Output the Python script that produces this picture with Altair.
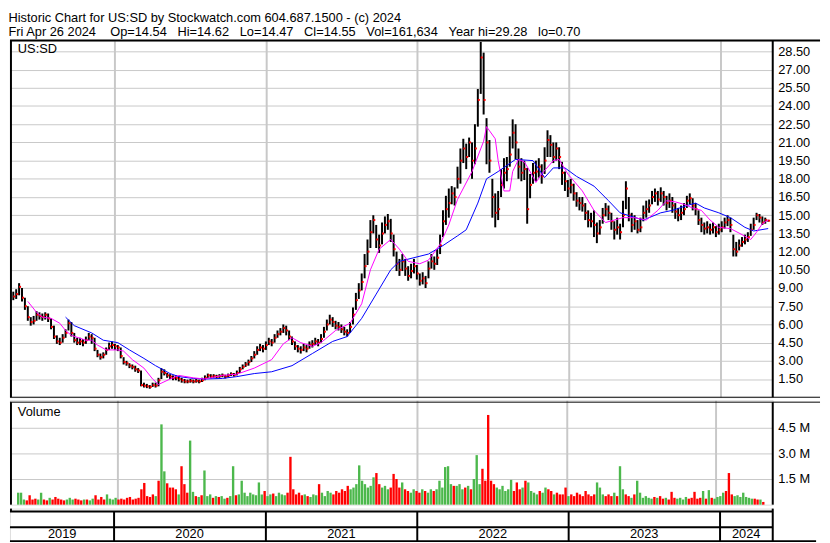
import altair as alt
import pandas as pd

# ---------------- data (weekly) ----------------
start_date = "2019-05-03"
n_weeks = 261

close = [
    8.3, 8.5, 9.1, 8.2, 7.5, 6.6, 6.2, 6.3, 6.8, 6.7,
    6.6, 6.8, 6.5, 5.8, 5.0, 4.6, 4.5, 4.9, 5.3, 6.1,
    5.3, 4.7, 4.5, 4.6, 4.5, 4.7, 5.0, 4.9, 4.0, 3.5,
    3.3, 3.5, 3.9, 4.2, 4.3, 4.2, 4.1, 3.4, 2.9, 2.8,
    2.6, 2.5, 2.3, 2.2, 1.0, 0.95, 0.9, 0.85, 1.0, 0.95,
    1.4, 2.1, 2.0, 1.8, 1.7, 1.6, 1.6, 1.5, 1.4, 1.3,
    1.3, 1.35, 1.3, 1.35, 1.3, 1.4, 1.6, 1.8, 1.7, 1.75,
    1.7, 1.75, 1.8, 1.7, 1.8, 1.9, 1.85, 2.0, 2.3, 2.5,
    2.7, 2.9, 3.2, 3.5, 3.9, 4.1, 4.0, 4.3, 4.6, 4.5,
    4.9, 5.2, 5.4, 5.7, 5.5, 5.0, 4.6, 4.2, 4.0, 3.9,
    4.1, 4.0, 4.3, 4.4, 4.6, 4.5, 4.8, 5.4, 6.0, 6.4,
    6.2, 5.9, 5.8, 5.6, 5.4, 5.3, 5.8, 6.8, 8.0, 8.8,
    9.5, 10.8, 12.0, 13.6, 14.6, 13.0, 12.5, 13.5, 14.2, 14.5,
    13.5, 12.2, 11.0, 10.5, 11.2, 10.6, 10.0, 10.4, 10.8, 10.2,
    9.6, 9.8, 9.4, 10.6, 11.2, 11.0, 11.5, 12.5, 14.5, 15.5,
    16.0, 16.8, 16.5, 18.0, 19.5, 20.5, 19.8, 21.0, 19.5, 20.5,
    24.5, 28.0, 24.5, 21.0, 19.5, 16.5, 15.2, 15.5, 17.5, 18.5,
    18.8, 20.0, 21.8, 21.0, 19.0, 18.5, 18.8, 15.5, 17.5, 18.5,
    18.6, 19.0, 18.2, 19.5, 21.2, 20.8, 19.8, 20.5, 19.8, 18.5,
    17.8, 17.2, 17.5, 16.8, 16.2, 16.0, 15.8, 15.2, 14.6, 14.5,
    14.2, 13.5, 14.0, 15.0, 15.5, 15.2, 14.5, 13.8, 14.0, 13.6,
    15.0, 17.2, 15.0, 14.2, 14.5, 13.8, 14.0, 15.2, 15.5, 15.8,
    16.5, 16.8, 16.3, 16.8, 16.5, 16.0, 16.2, 15.8, 15.3, 15.0,
    15.2, 15.5, 16.2, 16.4, 15.8, 15.5, 14.6, 14.2, 13.9, 14.0,
    13.8, 14.0, 13.6, 13.8, 14.0, 14.4, 14.6, 14.2, 12.2, 12.0,
    12.5, 12.8, 13.0, 13.2, 13.8, 14.2, 15.0, 14.8, 14.4, 14.6, 14.55,
]

high = [
    8.7, 8.9, 9.4, 9.0, 8.2, 7.5, 6.6, 6.7, 7.1, 7.0,
    6.9, 7.0, 6.9, 6.5, 5.9, 5.1, 4.9, 5.2, 5.6, 6.4,
    6.2, 5.3, 4.9, 4.9, 4.8, 5.0, 5.3, 5.2, 4.9, 3.9,
    3.6, 3.7, 4.1, 4.5, 4.6, 4.4, 4.3, 4.1, 3.3, 3.0,
    2.8, 2.7, 2.6, 2.4, 2.2, 1.2, 1.1, 1.0, 1.2, 1.2,
    1.6, 2.4, 2.3, 2.0, 1.9, 1.8, 1.8, 1.7, 1.6, 1.5,
    1.45, 1.5, 1.45, 1.5, 1.45, 1.6, 1.8, 1.95, 1.9, 1.9,
    1.85, 1.9, 1.95, 1.85, 1.95, 2.05, 2.0, 2.2, 2.5, 2.7,
    2.9, 3.1, 3.4, 3.8, 4.2, 4.4, 4.3, 4.6, 4.9, 4.8,
    5.2, 5.5, 5.7, 6.0, 5.9, 5.5, 5.0, 4.6, 4.3, 4.2,
    4.4, 4.3, 4.6, 4.7, 4.9, 4.8, 5.2, 5.8, 6.4, 6.8,
    6.6, 6.3, 6.2, 6.0, 5.8, 5.6, 6.2, 7.4, 8.6, 9.4,
    10.2, 11.8, 13.0, 14.6, 15.0, 14.2, 13.4, 14.4, 14.9, 15.1,
    14.7, 13.4, 12.0, 11.4, 11.8, 11.4, 10.8, 11.0, 11.4, 10.9,
    10.2, 10.3, 10.0, 11.2, 11.8, 11.6, 12.2, 13.4, 15.4, 16.6,
    17.2, 17.4, 17.3, 19.0, 20.5, 21.3, 20.9, 21.4, 21.0, 22.5,
    25.4, 29.28, 28.4, 23.0, 21.2, 18.0, 16.8, 17.0, 18.8, 19.7,
    19.8, 21.5, 22.9, 22.5, 20.5, 19.7, 19.5, 18.9, 18.4, 19.3,
    19.5, 19.7, 19.2, 20.6, 22.0, 21.6, 21.0, 21.0, 20.6, 19.4,
    18.6, 17.9, 18.0, 17.6, 16.9, 16.5, 16.5, 16.0, 15.4, 15.2,
    15.4, 14.4, 14.6, 15.6, 16.0, 15.8, 15.2, 14.5, 14.8, 14.3,
    16.2, 17.8, 16.5, 15.2, 15.0, 14.6, 14.8, 15.8, 16.2, 16.3,
    17.0, 17.2, 17.0, 17.3, 17.0, 16.6, 16.8, 16.5, 16.0, 15.6,
    15.8, 16.0, 16.6, 16.8, 16.4, 16.0, 15.4, 14.8, 14.4, 14.5,
    14.3, 14.4, 14.1, 14.3, 14.5, 14.8, 15.0, 14.8, 13.4, 12.8,
    13.0, 13.2, 13.4, 13.6, 14.3, 14.8, 15.2, 15.1, 14.9, 14.8, 14.62,
]

low = [
    8.0, 8.1, 8.4, 7.9, 7.2, 6.3, 5.9, 6.0, 6.3, 6.4,
    6.3, 6.4, 6.2, 5.6, 4.8, 4.4, 4.3, 4.5, 4.9, 5.5,
    5.0, 4.5, 4.3, 4.3, 4.2, 4.4, 4.7, 4.4, 3.8, 3.3,
    3.1, 3.2, 3.5, 3.9, 4.0, 3.9, 3.8, 3.2, 2.7, 2.6,
    2.4, 2.3, 2.1, 2.0, 0.9, 0.8, 0.75, 0.7, 0.85, 0.8,
    0.9, 1.5, 1.8, 1.6, 1.5, 1.4, 1.4, 1.3, 1.2, 1.15,
    1.15, 1.2, 1.15, 1.2, 1.15, 1.25, 1.4, 1.6, 1.55, 1.6,
    1.55, 1.6, 1.65, 1.55, 1.65, 1.75, 1.7, 1.8, 2.0, 2.3,
    2.5, 2.6, 2.9, 3.2, 3.5, 3.8, 3.7, 3.9, 4.3, 4.2,
    4.5, 4.9, 5.1, 5.3, 5.1, 4.7, 4.3, 3.9, 3.7, 3.6,
    3.8, 3.7, 4.0, 4.1, 4.3, 4.2, 4.5, 4.9, 5.5, 6.0,
    5.8, 5.6, 5.5, 5.3, 5.1, 5.0, 5.3, 6.0, 7.2, 8.1,
    8.8, 9.8, 10.9, 12.3, 13.5, 12.3, 11.9, 12.6, 13.5, 13.8,
    12.8, 11.6, 10.4, 10.0, 10.4, 10.0, 9.6, 9.8, 10.2, 9.7,
    9.2, 9.3, 9.0, 9.8, 10.6, 10.5, 10.9, 11.8, 13.2, 14.2,
    14.8, 15.9, 15.8, 17.2, 17.6, 19.3, 18.8, 19.8, 18.0, 19.2,
    22.3, 25.0, 23.3, 19.2, 18.5, 14.8, 14.0, 14.6, 16.5, 17.2,
    17.8, 19.0, 20.5, 19.6, 18.0, 17.8, 17.9, 14.3, 16.4, 17.6,
    17.8, 18.1, 17.6, 18.4, 19.8, 19.8, 19.3, 19.5, 18.8, 17.5,
    17.0, 16.5, 16.8, 16.2, 15.7, 15.4, 15.3, 14.6, 14.0, 14.0,
    13.2, 12.7, 13.4, 14.3, 14.9, 14.6, 13.8, 13.0, 13.4, 13.0,
    14.0, 15.5, 14.5, 13.6, 13.8, 13.5, 13.6, 14.5, 14.8, 15.2,
    15.9, 16.1, 15.8, 16.1, 15.8, 15.4, 15.6, 15.2, 14.7, 14.5,
    14.6, 15.0, 15.6, 15.9, 15.4, 15.0, 14.2, 13.6, 13.4, 13.5,
    13.4, 13.5, 13.2, 13.4, 13.6, 13.9, 14.1, 13.6, 11.6, 11.6,
    12.1, 12.4, 12.6, 12.8, 13.3, 13.8, 14.6, 14.4, 14.2, 14.3, 14.47,
]

volume_m = [
    0.7, 0.7, 0.3, 0.25, 0.55, 0.3, 0.35, 0.3, 0.7, 0.3,
    0.25, 0.4, 0.3, 0.45, 0.35, 0.3, 0.25, 0.3, 0.4, 0.3,
    0.35, 0.3, 0.25, 0.3, 0.3, 0.25, 0.35, 0.55, 0.3, 0.45,
    0.3, 0.6, 0.35, 0.3, 0.4, 0.3, 0.35, 0.3, 0.4, 0.45,
    0.3, 0.35, 0.4, 0.9, 1.27, 0.5, 0.45, 0.6, 0.5, 1.4,
    4.7, 1.95, 1.25, 1.0, 1.0, 0.9, 0.6, 2.25, 1.2, 0.7,
    3.75, 0.75, 0.5, 0.45, 0.55, 2.0, 0.5, 0.6, 0.4, 0.5,
    0.45, 0.5, 0.35, 0.4, 0.5, 2.25, 0.55, 0.6, 1.4, 0.7,
    0.5, 0.7, 0.6, 0.55, 1.3, 0.6, 0.8, 0.5, 0.6, 0.65,
    0.5, 0.7, 0.6, 0.55, 0.7, 2.8, 0.9, 0.6, 0.7, 0.55,
    0.6, 0.5, 0.45, 0.6, 0.55, 1.2, 0.7, 0.5, 0.8, 0.7,
    0.6, 0.8, 0.7, 0.9, 0.8, 1.1, 0.9, 1.0, 1.2, 2.3,
    1.4, 1.2, 1.0, 1.1, 1.6, 1.85, 1.2, 1.0, 1.1, 0.9,
    1.0, 1.8, 1.5, 1.0, 1.3, 0.9, 0.8, 0.7, 0.9, 0.8,
    0.7, 0.9, 0.8, 0.7, 0.9, 0.8, 0.9, 1.4, 1.0, 2.2,
    2.25, 1.2, 1.1, 1.1, 1.2, 0.9, 1.0, 1.1, 0.9, 1.5,
    2.9, 1.2, 2.1, 1.4, 5.25, 1.4, 1.2, 1.0, 0.9, 1.1,
    0.8, 0.9, 1.45, 0.8, 1.3, 0.9, 1.0, 1.4, 1.3, 0.8,
    0.7, 0.6, 0.8, 0.7, 1.0, 0.9, 0.8, 0.6, 0.7, 0.6,
    0.6, 1.0, 0.5, 0.6, 0.5, 0.7, 0.6, 0.5, 0.8, 0.6,
    0.5, 0.6, 1.3, 1.0, 0.6, 0.5, 0.6, 0.5, 0.7, 0.5,
    2.25, 0.9, 0.6, 0.5, 0.4, 0.6, 1.4, 0.7, 0.4, 0.5,
    0.4, 0.35, 0.45, 0.4, 0.5, 0.35, 0.4, 0.3, 0.75, 0.4,
    0.35, 0.4, 0.3, 0.45, 0.35, 0.4, 0.75, 0.35, 0.4, 0.8,
    0.35, 0.85, 0.4, 0.35, 0.45, 0.5, 0.7, 0.8, 1.85, 0.6,
    0.5, 0.55, 0.45, 0.7, 0.45, 0.4, 0.35, 0.35, 0.3, 0.3, 0.16,
]

# moving-average curves (week index, value)
fast_ma_week = [5, 8, 10, 13, 16, 18, 20, 25, 27, 29, 32, 36, 38, 41, 45, 48, 50, 54, 57, 62,
                66, 72, 77, 83, 89, 93, 96, 99, 103, 106, 111, 116, 120, 123, 126, 130, 133, 136, 140, 143,
                147, 150, 153, 158, 162, 163, 166, 167, 169, 171, 172, 174, 176, 178, 180, 182, 186, 188, 191, 196,
                200, 204, 207, 210, 214, 218, 222, 225, 228, 231, 234, 237, 240, 243, 247, 251, 254, 256, 258, 260]
fast_ma = [7.9, 7.0, 6.6, 6.5, 6.1, 5.5, 5.1, 4.7, 4.7, 4.3, 3.9, 3.9, 3.8, 3.1, 2.4, 1.5, 1.05, 1.5, 1.8, 1.6,
           1.5, 1.8, 1.9, 2.4, 3.1, 4.4, 4.9, 4.5, 4.2, 4.5, 5.5, 6.1, 7.7, 10.5, 12.2, 13.0, 12.2, 11.2, 11.0, 11.3,
           12.6, 14.2, 16.3, 18.6, 21.1, 22.3, 21.3, 19.5, 17.0, 17.0, 18.6, 19.6, 19.4, 18.6, 17.7, 18.4, 19.5, 19.6, 18.4, 17.0,
           15.4, 14.4, 14.6, 14.8, 14.8, 14.6, 15.4, 16.2, 16.1, 15.9, 15.6, 15.4, 14.6, 14.0, 13.9, 13.4, 13.0, 13.6, 14.3, 14.6]

slow_ma_week = [18, 21, 27, 31, 36, 40, 45, 49, 54, 57, 62, 66, 72, 77, 83, 89, 96, 103, 110, 115,
                120, 125, 130, 133, 138, 143, 148, 153, 156, 160, 163, 167, 173, 179, 183, 186, 190, 194, 200, 205,
                209, 217, 223, 227, 232, 235, 238, 243, 247, 252, 255, 260]
slow_ma = [6.6, 5.9, 5.3, 4.7, 4.5, 3.9, 3.2, 2.6, 1.95, 1.7, 1.55, 1.5, 1.55, 1.7, 1.95, 2.1, 2.6, 3.6, 4.6, 5.0,
           6.5, 8.5, 10.5, 11.2, 11.5, 11.8, 12.5, 13.3, 13.8, 16.0, 18.0, 18.6, 19.6, 19.5, 18.1, 18.9, 18.9, 18.2, 17.4, 16.2,
           15.2, 14.6, 15.2, 15.4, 15.8, 16.0, 15.6, 15.2, 14.8, 14.0, 13.7, 13.9]

price_ticks = [1.5, 3.0, 4.5, 6.0, 7.5, 9.0, 10.5, 12.0, 13.5, 15.0, 16.5, 18.0, 19.5,
               21.0, 22.5, 24.0, 25.5, 27.0, 28.5]
volume_ticks = [1.5, 3.0, 4.5]
year_labels = ["2019", "2020", "2021", "2022", "2023", "2024"]
year_label_dates = ["2019-08-29", "2020-07-01", "2021-07-02", "2022-07-02", "2023-07-02", "2024-03-04"]
year_start_dates = ["2020-01-01", "2021-01-01", "2022-01-01", "2023-01-01", "2024-01-01"]

header_line1 = "Historic Chart for US:SD by Stockwatch.com 604.687.1500 - (c) 2024"
NB = "\u00a0"
header_line2 = (f"Fri Apr 26 2024{NB*4}Op=14.54{NB*3}Hi=14.62{NB*3}Lo=14.47{NB*3}"
                f"Cl=14.55{NB*3}Vol=161,634{NB*3}Year hi=29.28{NB*3}lo=0.70")
panel_label = ["US:SD"]
volume_label = ["Volume"]

assert len(close) == len(high) == len(low) == len(volume_m) == n_weeks
assert len(fast_ma_week) == len(fast_ma) and len(slow_ma_week) == len(slow_ma)

# ---------------- tables ----------------
dates = pd.date_range(start_date, periods=n_weeks, freq="7D")
direction = ["up" if i == 0 or close[i] >= close[i - 1] else "down" for i in range(n_weeks)]
df = pd.DataFrame({"date": dates, "high": high, "low": low, "close": close,
                   "volume": volume_m, "dir": direction})
fast_df = pd.DataFrame({"date": dates[fast_ma_week], "ma": fast_ma})
slow_df = pd.DataFrame({"date": dates[slow_ma_week], "ma": slow_ma})
years_df = pd.DataFrame({"d": pd.to_datetime(year_start_dates)})
ylab_df = pd.DataFrame({"year": year_labels, "mid": pd.to_datetime(year_label_dates)})
one_row = pd.DataFrame({"k": [0]})

# ---------------- layout constants ----------------
W = 774        # plot width
PH = 362       # price panel height
VH = 106       # volume panel height
AH = 33        # date strip height
FULL = 822     # full chart width
GRID = "#c8c8c8"
FONT = "Liberation Sans"

x_scale = alt.Scale(domain=[alt.DateTime(year=2019, month=4, date=25),
                            alt.DateTime(year=2024, month=5, date=7)])
year_ticks = [alt.DateTime(year=y, month=1, date=1) for y in range(2020, 2025)]
x_axis = alt.Axis(values=year_ticks, grid=True, gridColor=GRID, gridWidth=2,
                  labels=False, ticks=False, domain=False, title=None)
price_scale = alt.Scale(domain=[0, 29.4], nice=False, zero=False)
price_axis = alt.Axis(orient="right", values=price_ticks, format=".2f", grid=True,
                      gridColor=GRID, gridWidth=1, ticks=False, tickSize=0, domain=False,
                      labelPadding=5, labelFontSize=13, labelFont=FONT,
                      labelColor="black", title=None)
vol_scale = alt.Scale(domain=[0, 6.115], nice=False)
vol_axis = alt.Axis(orient="right", values=volume_ticks,
                    labelExpr="format(datum.value, '.1f') + ' M'", grid=True,
                    gridColor=GRID, gridWidth=1, ticks=False, tickSize=0, domain=False,
                    labelPadding=5, labelFontSize=13, labelFont=FONT,
                    labelColor="black", title=None)


def X(field="date:T"):
    return alt.X(field, scale=x_scale, axis=x_axis, title=None)


def hrule(y, x0, x1, w=2):
    return alt.Chart(one_row).mark_rule(color="black", strokeWidth=w).encode(
        x=alt.value(x0), x2=alt.value(x1), y=alt.value(y))


def vrule(x, y0, y1, w=2):
    return alt.Chart(one_row).mark_rule(color="black", strokeWidth=w).encode(
        x=alt.value(x), y=alt.value(y0), y2=alt.value(y1))


# ---------------- price panel ----------------
hilo = alt.Chart(df).mark_rule(color="black", strokeWidth=2).encode(
    x=X(), y=alt.Y("low:Q", scale=price_scale, axis=price_axis, title=None), y2="high:Q")
close_pts = alt.Chart(df).mark_point(shape="square", filled=True, size=4, color="#ff0000",
                                     opacity=1, xOffset=1).encode(
    x=X(), y=alt.Y("close:Q", scale=price_scale, axis=price_axis, title=None))
fast_line = alt.Chart(fast_df).mark_line(color="#ff00ff", strokeWidth=1).encode(
    x=X(), y=alt.Y("ma:Q", scale=price_scale, axis=price_axis, title=None))
slow_line = alt.Chart(slow_df).mark_line(color="#0000ff", strokeWidth=1).encode(
    x=X(), y=alt.Y("ma:Q", scale=price_scale, axis=price_axis, title=None))
sym_text = alt.Chart(pd.DataFrame({"t": panel_label})).mark_text(
    align="left", baseline="top", fontSize=13, font=FONT, color="black").encode(
    text="t:N", x=alt.value(8), y=alt.value(3))

price = alt.layer(
    hilo, close_pts, slow_line, fast_line, sym_text,
    hrule(0, 0, FULL, 2), vrule(1, 0, PH, 2), vrule(W, 0, PH, 2), hrule(PH, 0, FULL, 1),
).properties(width=W, height=PH)

# ---------------- volume panel ----------------
bars = alt.Chart(df).mark_bar(size=2.4).encode(
    x=X(),
    y=alt.Y("volume:Q", scale=vol_scale, axis=vol_axis, title=None),
    color=alt.Color("dir:N", scale=alt.Scale(domain=["up", "down"],
                                             range=["#4cb84c", "#ff0000"]), legend=None),
)
vol_text = alt.Chart(pd.DataFrame({"t": volume_label})).mark_text(
    align="left", baseline="top", fontSize=13, font=FONT, color="black").encode(
    text="t:N", x=alt.value(8), y=alt.value(6))

volume = alt.layer(
    bars, vol_text,
    hrule(2, 0, FULL, 1), vrule(1, 2, VH, 2), vrule(W, 2, VH, 2),
).properties(width=W, height=VH)

# ---------------- date strip ----------------
year_lines = alt.Chart(years_df).mark_rule(color="black", strokeWidth=2).encode(
    x=alt.X("d:T", scale=x_scale, axis=None), y=alt.value(3), y2=alt.value(AH))
year_text = alt.Chart(ylab_df).mark_text(fontSize=13, font=FONT, baseline="middle",
                                         color="black").encode(
    x=alt.X("mid:T", scale=x_scale, axis=None), y=alt.value(26), text="year:N")

strip = alt.layer(
    year_lines, year_text,
    vrule(1, 0, 3, 2), vrule(W, 0, AH, 2),
    hrule(3, 0, W, 2), hrule(19, 0, W, 2), hrule(AH, 0, FULL - 4, 2),
).properties(width=W, height=AH)

chart = alt.vconcat(price, volume, strip, spacing=0).properties(
    title=alt.TitleParams(text=[header_line1, header_line2], anchor="start", fontSize=13,
                          font=FONT, fontWeight="normal", color="black", lineHeight=14,
                          offset=0, baseline="top"),
    padding=0,
).configure_view(stroke=None).configure(font=FONT)

chart.save("out.html", embed_options={"renderer": "svg", "actions": False})
